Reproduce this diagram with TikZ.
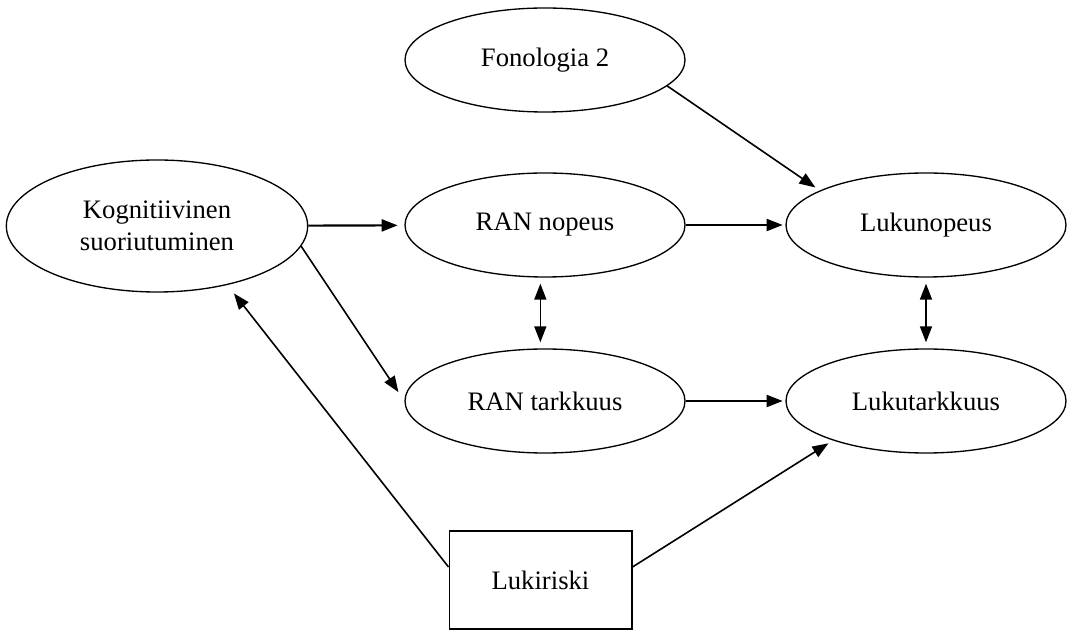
\documentclass[tikz,border=0pt]{standalone}
\usepackage{fontspec}
\setmainfont{Liberation Serif}
\usepackage{tikz}
\usetikzlibrary{shapes,arrows,positioning,calc,arrows.meta}

\begin{document}
\begin{tikzpicture}[x=0.75pt,y=-0.75pt,
    var/.style={ellipse, draw, line width=1pt, inner sep=0pt, minimum width=210pt, minimum height=78pt, align=center, font=\fontsize{20}{24}\selectfont},
    obs/.style={rectangle, draw, line width=1pt, inner sep=0pt, minimum width=137pt, minimum height=73.5pt, font=\fontsize{20}{24}\selectfont},
    effect/.style={-{Triangle[length=12pt,width=9pt]}, line width=1.2pt},
    main/.style={effect, line width=1.6pt},
    corr/.style={{Triangle[length=12pt,width=9pt]}-{Triangle[length=12pt,width=9pt]}, line width=1.2pt, shorten <=4.5pt, shorten >=4.5pt}]
\useasboundingbox (0,0) rectangle (1067,630);

% Variables
\node[var] (fono) at (545,60) {Fonologia 2};
\node[var, minimum width=226pt, minimum height=99pt] (kog) at (157,226) {Kognitiivinen\\suoriutuminen};
\node[var] (rann) at (545,225) {RAN nopeus};
\node[var] (rant) at (545,401) {RAN tarkkuus};
\node[var] (lukun) at (926,225) {Lukunopeus};
\node[var] (lukut) at (926,401) {Lukutarkkuus};
\node[obs] (riski) at (540.5,580) {Lukiriski};

% Paths
\draw[main, shorten >=5pt] (kog) -- (rann);
\draw[main, shorten >=2pt] (rann) -- (lukun);
\draw[main, shorten >=2pt] (rant) -- (lukut);
\draw[effect, shorten >=4pt] (fono.-12) -- (lukun.162);
\draw[effect, shorten >=8pt] (kog.-8) -- (rant.west);
\draw[effect, shorten >=8pt] ([yshift=9.75pt]riski.west) -- (kog.-40);
\draw[effect, shorten >=4pt] ([yshift=9.75pt]riski.east) -- (lukut.203);

% Correlations
\draw[corr] ([xshift=-3.5pt]rann.south) -- ([xshift=-3.5pt]rant.north);
\draw[corr] (lukun) -- (lukut);

\end{tikzpicture}
\end{document}
